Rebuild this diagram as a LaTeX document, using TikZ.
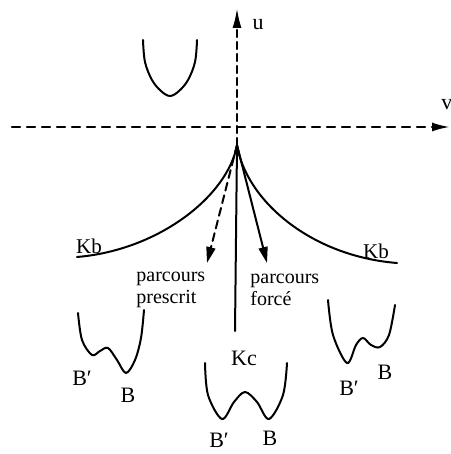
\documentclass[tikz,border=0pt]{standalone}
\usepackage{fontspec}
\setmainfont{Liberation Serif}
\usetikzlibrary{arrows.meta}
\begin{document}
\begin{tikzpicture}[x=0.5pt,y=-0.5pt,line cap=round,
  curve/.style={line width=1pt},
  axis/.style={line width=1.1pt,dash pattern=on 4pt off 3.5pt,-{Latex[length=9pt,width=4.5pt]}},
  lbl/.style={inner sep=0pt,font=\fontsize{11}{12}\selectfont},
  small/.style={inner sep=0pt,font=\fontsize{10}{11}\selectfont,align=left,anchor=west}]
\useasboundingbox (0,0) rectangle (450,454);
% axes
\coordinate (O) at (237,127);
\coordinate (vl) at (12,127);
\coordinate (vr) at (450,127);
\coordinate (ut) at (237,8);
\coordinate (C) at (237,145);
\draw[axis] (vl) -- (vr);
\draw[line width=1.1pt,dash pattern=on 3.5pt off 2.5pt,-{Latex[length=10pt,width=4.5pt]}] (C) -- (ut);
\node[lbl] (u) at (258,25) {u};
\node[lbl,anchor=west] (v) at (441,105) {v};
% cusp curves
\coordinate (kbl) at (77,257);
\coordinate (kbr) at (397,263);
\draw[curve] (C) .. controls (228,195) and (160,250) .. (kbl);
\draw[curve] (C) .. controls (246,200) and (310,256) .. (kbr);
\fill (C) ++(-2.5,6) -- (C) -- ++(2.5,6) -- cycle;
\node[lbl,font=\fontsize{10.5}{12}\selectfont] (Kb1) at (89,246) {Kb};
\node[lbl,font=\fontsize{10.5}{12}\selectfont] (Kb2) at (376,251) {Kb};
% vertical line
\coordinate (Kcl) at (235,331);
\draw[curve] (C) -- (Kcl);
% arrows
\coordinate (a1) at (207,263);
\coordinate (a2) at (267,263);
\draw[curve,dash pattern=on 4pt off 2.5pt,-{Triangle[length=8pt,width=4.5pt]}] (C) -- (a1);
\draw[curve,-{Triangle[length=8pt,width=4.5pt]}] (C) -- (a2);
\node[small] (p1) at (136,290) {parcours\\prescrit};
\node[small] (p2) at (250,290) {parcours\\forcé};
\node[lbl] (Kc) at (244,358) {Kc};
% single well
\draw[curve] plot[smooth,tension=0.6] coordinates {(143,40) (145,62) (152,80) (161,91) (170,96) (179,91) (188,80) (195,62) (197,40)};
% left double well
\draw[curve] plot[smooth,tension=0.55] coordinates {(78,313) (82,340) (92,355) (100,351) (108,348) (117,360) (126,373) (135,360) (141,338) (144,310)};
\node[lbl] (Bp1) at (82,378) {B′};
\node[lbl] (B1) at (128,395) {B};
% center double well
\draw[curve] plot[smooth,tension=0.55] coordinates {(205,363) (208,395) (222,419) (234,402) (245,392) (257,402) (269,419) (283,395) (287,363)};
\node[lbl] (Bp2) at (219,440) {B′};
\node[lbl] (B2) at (270,438) {B};
% right double well
\draw[curve] plot[smooth,tension=0.55] coordinates {(328,300) (333,335) (347,363) (356,345) (363,338) (371,345) (380,347) (389,335) (395,305)};
\node[lbl] (Bp3) at (349,388) {B′};
\node[lbl] (B3) at (385,372) {B};
\end{tikzpicture}
\end{document}
